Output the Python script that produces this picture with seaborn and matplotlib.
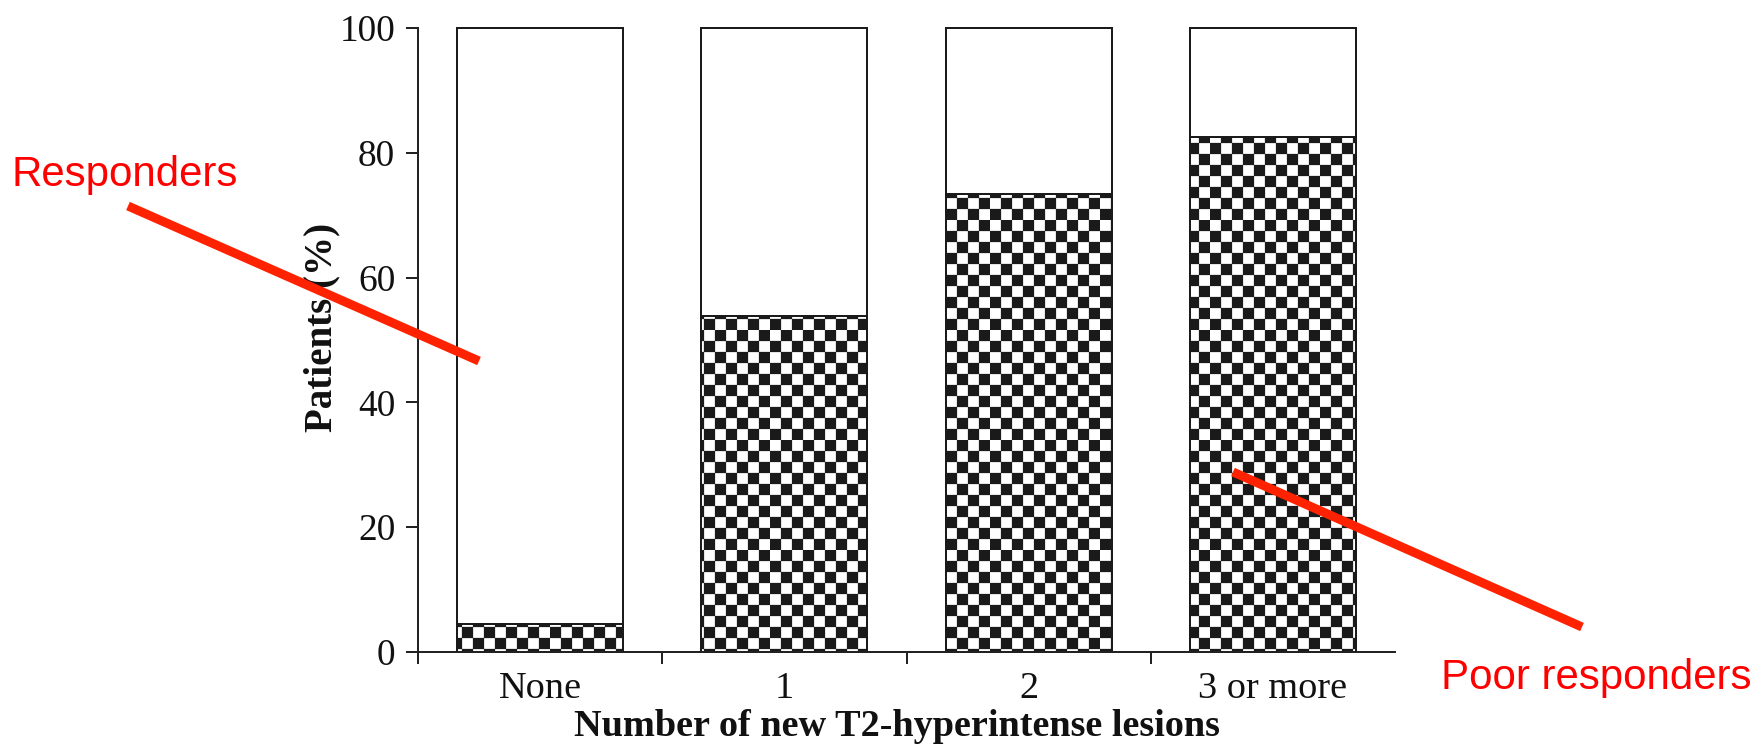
import warnings
import numpy as np
import pandas as pd
import matplotlib
matplotlib.use("Agg")
import matplotlib.pyplot as plt
import matplotlib.hatch as mhatch
from matplotlib.path import Path
from matplotlib.lines import Line2D
import seaborn as sns

# ---------------- data ----------------
categories = ["None", "1", "2", "3 or more"]
poor_responders = [4.5, 53.8, 73.4, 82.5]
responders = [95.5, 46.2, 26.6, 17.5]
y_ticks = [0, 20, 40, 60, 80, 100]
x_label = "Number of new T2-hyperintense lesions"
y_label = "Patients (%)"


# ---------------- checkerboard hatch ----------------
class CheckerHatch(mhatch.HatchPatternBase):
    def __init__(self, hatch, density):
        self.n = 10 if "c" in hatch else 0
        self.cells = [(i, j) for i in range(self.n) for j in range(self.n)
                      if (i + j) % 2 == 0]
        self.num_vertices = len(self.cells) * 5

    def set_vertices_and_codes(self, vertices, codes):
        s = 1.0 / self.n
        sq = np.array([[0, 0], [s, 0], [s, s], [0, s], [0, 0]], float)
        sc = [Path.MOVETO, Path.LINETO, Path.LINETO, Path.LINETO, Path.CLOSEPOLY]
        for k, (i, j) in enumerate(self.cells):
            vertices[k * 5:(k + 1) * 5] = sq + [i * s, j * s]
            codes[k * 5:(k + 1) * 5] = sc


mhatch._hatch_types.append(CheckerHatch)

DPI = 110
W, H = 1762, 748

sns.set_style("ticks")
plt.rcParams["font.family"] = ["Liberation Serif", "DejaVu Serif"]
plt.rcParams["hatch.linewidth"] = 0.15
plt.rcParams["hatch.color"] = "#1e1e1e"

fig = plt.figure(figsize=(W / DPI, H / DPI), dpi=DPI)
ax = fig.add_axes([418 / W, 1 - 652 / H, (1395 - 418) / W, (652 - 28) / H])

df = pd.DataFrame({"category": categories,
                   "poor": poor_responders,
                   "resp": responders})
df["top"] = df["poor"] + df["resp"]

bw = 0.68
lw = 1.3
sns.barplot(data=df, x="category", y="top", order=categories, color="white",
            saturation=1, edgecolor="#1a1a1a", linewidth=lw, width=bw, ax=ax)
n_before = len(ax.patches)
sns.barplot(data=df, x="category", y="poor", order=categories, color="white",
            saturation=1, edgecolor="#1a1a1a", linewidth=lw, width=bw, ax=ax)
with warnings.catch_warnings():
    warnings.simplefilter("ignore")
    for p in ax.patches[n_before:]:
        p.set_hatch("c")
for p in ax.patches:
    p.set_clip_on(False)

ax.set_xlim(-0.5, 3.5)
ax.set_ylim(0, 100)
sns.despine(ax=ax)
for s in ("left", "bottom"):
    ax.spines[s].set_linewidth(lw)
    ax.spines[s].set_color("#222222")

tick_len = 12 * 72 / DPI
ax.set_yticks(y_ticks)
ax.set_yticklabels([str(v) for v in y_ticks])
ax.tick_params(axis="y", direction="out", length=tick_len, width=lw,
               color="#222222", labelsize=24.5, pad=7, labelcolor="#111111")
ax.set_xticks(range(len(categories)))
ax.set_xticklabels(categories)
ax.set_xticks([-0.5, 0.5, 1.5, 2.5], minor=True)
ax.tick_params(axis="x", which="major", length=0, labelsize=25, pad=13,
               labelcolor="#111111")
ax.tick_params(axis="x", which="minor", direction="out", length=tick_len,
               width=lw, color="#222222")

ax.set_xlabel(x_label, fontsize=25, fontweight="bold", color="#111111")
ax.set_ylabel(y_label, fontsize=25.5, fontweight="bold", color="#111111")
ax.xaxis.set_label_coords(0.49, -0.091)
ax.yaxis.set_label_coords(-0.079, 0.52)

# ---------------- red annotations ----------------
red_line = "#ff2200"
lw_red = 9 * 72 / DPI
fig.add_artist(Line2D([128 / W, 479 / W], [1 - 206 / H, 1 - 361 / H],
                      transform=fig.transFigure, color=red_line, lw=lw_red,
                      solid_capstyle="butt"))
fig.add_artist(Line2D([1233 / W, 1582 / W], [1 - 472 / H, 1 - 627 / H],
                      transform=fig.transFigure, color=red_line, lw=lw_red,
                      solid_capstyle="butt"))
fig.text(11 / W, 1 - 186 / H, "Responders", color="red", fontsize=27.5,
         family=["Liberation Sans", "DejaVu Sans"], va="baseline", ha="left")
fig.text(1441 / W, 1 - 689 / H, "Poor responders", color="red", fontsize=27.5,
         family=["Liberation Sans", "DejaVu Sans"], va="baseline", ha="left")

fig.savefig("out.png", dpi=DPI, facecolor="white")
